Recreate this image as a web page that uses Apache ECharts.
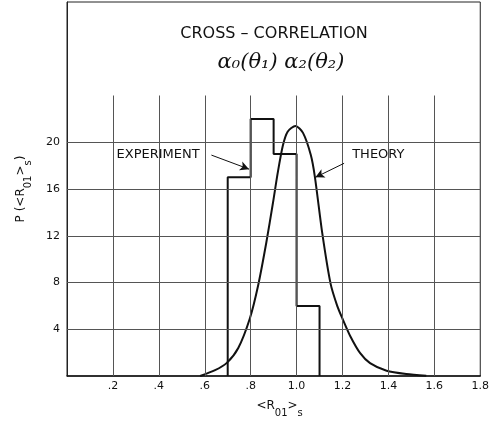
<!DOCTYPE html>
<html>
<head>
<meta charset="utf-8">
<script src="https://cdn.jsdelivr.net/npm/echarts@6/dist/echarts.min.js"></script>
<style>
  html, body { margin: 0; padding: 0; background: #fff; }
  #chart { width: 492px; height: 426px; }
</style>
</head>
<body>
<div id="chart"></div>
<script>
// histogram bins (experiment) and the theory curve
const binEdges = [0.7, 0.8, 0.9, 1.0, 1.1];
const binCounts = [17, 22, 19, 6];

const theoryX = [0.58, 0.645, 0.695, 0.746, 0.796, 0.832, 0.868, 0.897, 0.918, 0.940, 0.961,
  0.995, 1.028, 1.062, 1.08, 1.112, 1.148, 1.177, 1.20, 1.234, 1.277, 1.32, 1.392, 1.478, 1.565];
const theoryY = [0, 0.5, 1.1, 2.4, 4.9, 7.7, 11.4, 14.8, 17.4, 19.7, 20.9,
  21.4, 20.8, 18.9, 17.0, 12.2, 7.9, 6.0, 4.9, 3.4, 1.95, 1.1, 0.45, 0.17, 0.03];

const xTicks = [0.2, 0.4, 0.6, 0.8, 1.0, 1.2, 1.4, 1.6];
const xTickLabels = ['', '.2', '.4', '.6', '.8', '1.0', '1.2', '1.4', '1.6', '1.8'];
const yTicks = [4, 8, 12, 16, 20];
const gridTop = 24;   // vertical rules stop here

const FONT = '"DejaVu Sans", sans-serif';

// step outline of the histogram
const histPath = [[binEdges[0], 0]];
binCounts.forEach((c, i) => {
  histPath.push([binEdges[i], c], [binEdges[i + 1], c]);
});
histPath.push([binEdges[binEdges.length - 1], 0]);

const gridLines = [];
xTicks.forEach(x => gridLines.push([{ coord: [x, 0] }, { coord: [x, gridTop] }]));
yTicks.forEach(y => gridLines.push([{ coord: [0, y] }, { coord: [1.8, y] }]));

const chart = echarts.init(document.getElementById('chart'));

chart.setOption({
  animation: false,
  backgroundColor: '#fff',
  grid: { left: 67, right: 8, top: 2, bottom: 50, show: true, borderColor: '#222', borderWidth: 1 },
  graphic: [
    { type: 'text', x: 274, y: 26,
      style: { text: 'CROSS – CORRELATION', font: '16px ' + FONT, fill: '#111', textAlign: 'center' } },
    { type: 'text', x: 281, y: 52,
      style: { text: 'α₀(θ₁) α₂(θ₂)', font: 'italic 21px "DejaVu Serif", serif', fill: '#111', textAlign: 'center' } }
  ],
  xAxis: {
    type: 'value', min: 0, max: 1.8, interval: 0.2,
    name: '{a|<R}{s|01}{a|>}{s|s}',
    nameLocation: 'middle', nameGap: 24,
    nameTextStyle: {
      padding: [0, 0, 0, 12],
      rich: {
        a: { fontFamily: FONT, fontSize: 12, color: '#111', lineHeight: 18, verticalAlign: 'top' },
        s: { fontFamily: FONT, fontSize: 10, color: '#111', lineHeight: 18, verticalAlign: 'bottom' }
      }
    },
    axisLine: { show: true, lineStyle: { color: '#111', width: 1.5 } },
    axisTick: { show: false },
    splitLine: { show: false },
    axisLabel: {
      margin: 5, fontFamily: FONT, fontSize: 11, color: '#111',
      formatter: v => xTickLabels[Math.round(v / 0.2)] || ''
    }
  },
  yAxis: {
    type: 'value', min: 0, max: 32, interval: 4,
    name: '{a|P (<R}{s|01}{a|>}{s|s}{a|)}',
    nameLocation: 'middle', nameGap: 34, nameRotate: 90,
    nameTextStyle: {
      rich: {
        a: { fontFamily: FONT, fontSize: 12, color: '#111', lineHeight: 18, verticalAlign: 'top' },
        s: { fontFamily: FONT, fontSize: 10, color: '#111', lineHeight: 18, verticalAlign: 'bottom' }
      }
    },
    axisLine: { show: true, lineStyle: { color: '#222', width: 1 } },
    axisTick: { show: false },
    splitLine: { show: false },
    axisLabel: {
      margin: 7, fontFamily: FONT, fontSize: 11, color: '#111',
      formatter: v => (yTicks.indexOf(v) >= 0 ? String(v) : '')
    }
  },
  series: [
    {
      type: 'line', data: [], silent: true, z: 1,
      markLine: {
        silent: true, symbol: ['none', 'none'], animation: false,
        label: { show: false },
        lineStyle: { color: '#555', width: 1, type: 'solid' },
        data: gridLines
      }
    },
    {
      name: 'EXPERIMENT', type: 'line', data: histPath, showSymbol: false, z: 3,
      lineStyle: { color: '#111', width: 2 },
      markLine: {
        silent: true, symbol: ['none', 'arrow'], symbolSize: [7, 9], animation: false,
        label: { show: false },
        lineStyle: { color: '#111', width: 1, type: 'solid' },
        data: [[{ coord: [0.629, 18.9] }, { coord: [0.793, 17.7] }]]
      },
      markPoint: {
        silent: true, symbol: 'circle', symbolSize: 0,
        label: { show: true, formatter: '{b}', fontFamily: FONT, fontSize: 13, color: '#111' },
        data: [{ name: 'EXPERIMENT', coord: [0.397, 18.9] }]
      }
    },
    {
      name: 'THEORY', type: 'line', smooth: 0.25, showSymbol: false, z: 4,
      data: theoryX.map((x, i) => [x, theoryY[i]]),
      lineStyle: { color: '#111', width: 2 },
      markLine: {
        silent: true, symbol: ['none', 'arrow'], symbolSize: [7, 9], animation: false,
        label: { show: false },
        lineStyle: { color: '#111', width: 1, type: 'solid' },
        data: [[{ coord: [1.207, 18.2] }, { coord: [1.082, 17.0] }]]
      },
      markPoint: {
        silent: true, symbol: 'circle', symbolSize: 0,
        label: { show: true, formatter: '{b}', fontFamily: FONT, fontSize: 13, color: '#111' },
        data: [{ name: 'THEORY', coord: [1.356, 18.9] }]
      }
    }
  ]
});
</script>
</body>
</html>
